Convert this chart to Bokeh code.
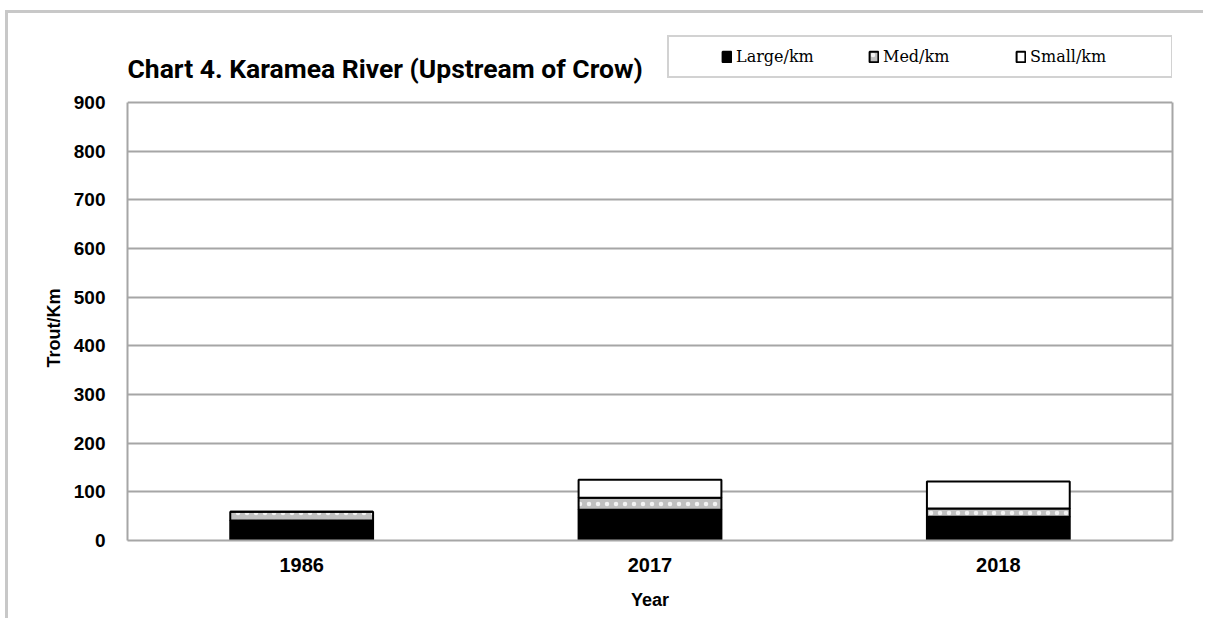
from bokeh.plotting import figure
from bokeh.models import FixedTicker, Label, ColumnDataSource, LinearAxis, Title
from bokeh.embed import file_html
from bokeh.resources import INLINE

# Trout density per km by size class
years = ["1986", "2017", "2018"]
large_km = [41, 63, 49]
med_km = [18, 25, 17]
small_km = [0, 37, 55]
size_classes = ["Large/km", "Med/km", "Small/km"]
y_ticks = [0, 100, 200, 300, 400, 500, 600, 700, 800, 900]
y_max = 900

source = ColumnDataSource(data={
    "year": years,
    "Large/km": large_km,
    "Med/km": med_km,
    "Small/km": small_km,
})

GRID = "#a6a6a6"

# the frame reaches up to the top of the canvas so the heading and key
# sit inside it; the value axis itself stops at y_max
p = figure(
    x_range=years, y_range=(0, 1083),
    width=1198, height=608,
    output_backend="svg", toolbar_location=None, tools="",
    min_border_left=119, min_border_right=34,
    min_border_top=0, min_border_bottom=81,
)
p.styles = {
    "margin-left": "5px", "margin-top": "10px",
    "border-left": "3px solid #c8c8c8", "border-top": "3px solid #c8c8c8",
}

p.vbar_stack(
    size_classes, x="year", width=0.41, source=source,
    fill_color=["black", "#bfbfbf", "white"],
    line_color="black", line_width=2,
    hatch_pattern=[" ", "dot", " "], hatch_color="white",
    hatch_scale=9, hatch_weight=1.5, hatch_alpha=0.8,
    legend_label=size_classes,
)

p.outline_line_color = None
p.xgrid.grid_line_color = None
p.ygrid.grid_line_color = GRID
p.ygrid.grid_line_width = 2

xax = p.below[0]
yax = p.left[0]
yax.ticker = FixedTicker(ticks=y_ticks)
yax.bounds = (0, y_max)

right_edge = LinearAxis(
    bounds=(0, y_max), ticker=FixedTicker(ticks=[]),
    axis_line_color=GRID, axis_line_width=2,
    major_tick_line_color=None, minor_tick_line_color=None,
    major_label_text_font_size="0px",
)
p.add_layout(right_edge, "right")

for ax in (xax, yax):
    ax.axis_line_color = GRID
    ax.axis_line_width = 2
    ax.major_tick_line_color = None
    ax.minor_tick_line_color = None
    ax.major_label_text_font = "Liberation Sans"
    ax.major_label_text_font_style = "bold"
    ax.major_label_text_color = "#000000"
    ax.axis_label_text_font = "Liberation Sans"
    ax.axis_label_text_font_style = "bold"
    ax.axis_label_text_font_size = "18px"
    ax.axis_label_text_color = "#000000"

yax.major_label_text_font_size = "19px"
yax.major_label_standoff = 16
xax.major_label_text_font_size = "20px"
xax.major_label_standoff = 11
xax.axis_label = "Year"
xax.axis_label_standoff = 15

# value-axis caption, placed along the 0..y_max span rather than the whole frame
y_caption = Title(
    text="Trout/Km", align="left", offset=173, standoff=13,
    text_font="Liberation Sans", text_font_style="bold",
    text_font_size="18px", text_color="#000000",
)
p.add_layout(y_caption, "left")

heading = Label(
    x=0, y=472, x_units="screen", y_units="screen",
    text="Chart 4. Karamea River (Upstream of Crow)",
    text_font="Roboto", text_font_style="bold",
    text_font_size="26.5px", text_color="#000000",
    text_baseline="middle", text_align="left",
)
p.add_layout(heading)

lg = p.legend[0]
lg.orientation = "horizontal"
lg.location = (540, 462)
lg.border_line_color = GRID
lg.border_line_width = 2
lg.background_fill_color = "white"
lg.background_fill_alpha = 1
lg.padding = 10
lg.glyph_width = 11
lg.glyph_height = 13
lg.label_standoff = 4
lg.label_height = 18
lg.label_width = 131
lg.spacing = 1
lg.label_text_font = "DejaVu Serif"
lg.label_text_font_size = "16px"
lg.label_text_color = "#000000"
lg.title = " "
lg.title_location = "left"
lg.title_text_font_size = "2px"
lg.title_standoff = 40

open("out.html", "w").write(file_html(p, INLINE))
